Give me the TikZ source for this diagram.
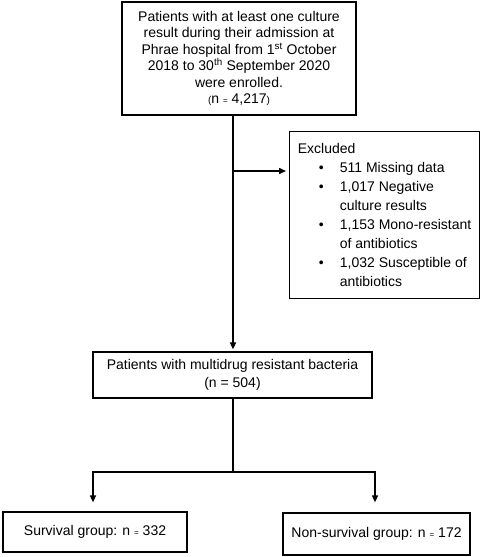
\documentclass[tikz,border=0pt]{standalone}
\usepackage{fontspec}
\setmainfont{Liberation Sans}
\usetikzlibrary{arrows.meta}
\newcommand{\smeq}{{\fontsize{8}{8}\selectfont=}}
\newcommand{\bulline}[1]{\hspace*{21pt}\makebox[21pt][l]{\textbullet}#1}
\newcommand{\contline}[1]{\hspace*{42pt}#1}
\begin{document}
\begin{tikzpicture}[x=1pt,y=-1pt,
  box/.style={draw, line width=1.2pt, inner sep=0pt, align=center,
    font=\fontsize{14}{16.5}\selectfont},
  conn/.style={line width=1.5pt, line join=miter},
  arr/.style={conn, -{Triangle[length=7pt,width=6pt]}}]
\useasboundingbox (0,0) rectangle (484,557);
\node[box, minimum width=234pt, minimum height=113pt] (top) at (239,58.5)
  {Patients with at least one culture\\
   result during their admission at\\
   Phrae hospital from 1\textsuperscript{st} October\\
   2018 to 30\textsuperscript{th} September 2020\\
   were enrolled.\\
   {\fontsize{10}{10}\selectfont(}n \smeq\ 4,217{\fontsize{10}{10}\selectfont)}};
\node[box, anchor=north west, align=left, minimum width=190pt,
  minimum height=167pt, font=\fontsize{14}{19}\selectfont] (exc) at (289,131)
  {Excluded\\
   \bulline{511 Missing data}\\
   \bulline{1,017 Negative}\\
   \contline{culture results}\\
   \bulline{1,153 Mono-resistant}\\
   \contline{of antibiotics}\\
   \bulline{1,032 Susceptible of}\\
   \contline{antibiotics}};
\node[box, minimum width=279pt, minimum height=46pt, font=\fontsize{14}{18}\selectfont] (mid) at (232.5,375)
  {Patients with multidrug resistant bacteria\\(n = 504)};
\node[box, minimum width=184pt, minimum height=40pt] (left) at (95,532)
  {Survival group: n \smeq\ 332};
\node[box, minimum width=187pt, minimum height=42pt] (right) at (376.5,534)
  {Non-survival group: n \smeq\ 172};
\coordinate (trunk) at (233,171);
\coordinate (j) at (233,472);
\coordinate (jl) at (93,472);
\coordinate (jr) at (375,472);
\draw[arr, shorten >=2pt] (top.south -| trunk) -- (mid.north -| trunk);
\draw[arr, shorten >=3pt] (trunk) -- (exc.west |- trunk);
\draw[conn] (mid.south -| j) -- (j);
\draw[arr, shorten >=9pt] (j) -| (jl |- left.north);
\draw[arr, shorten >=10pt] (j) -| (jr |- right.north);
\end{tikzpicture}
\end{document}
